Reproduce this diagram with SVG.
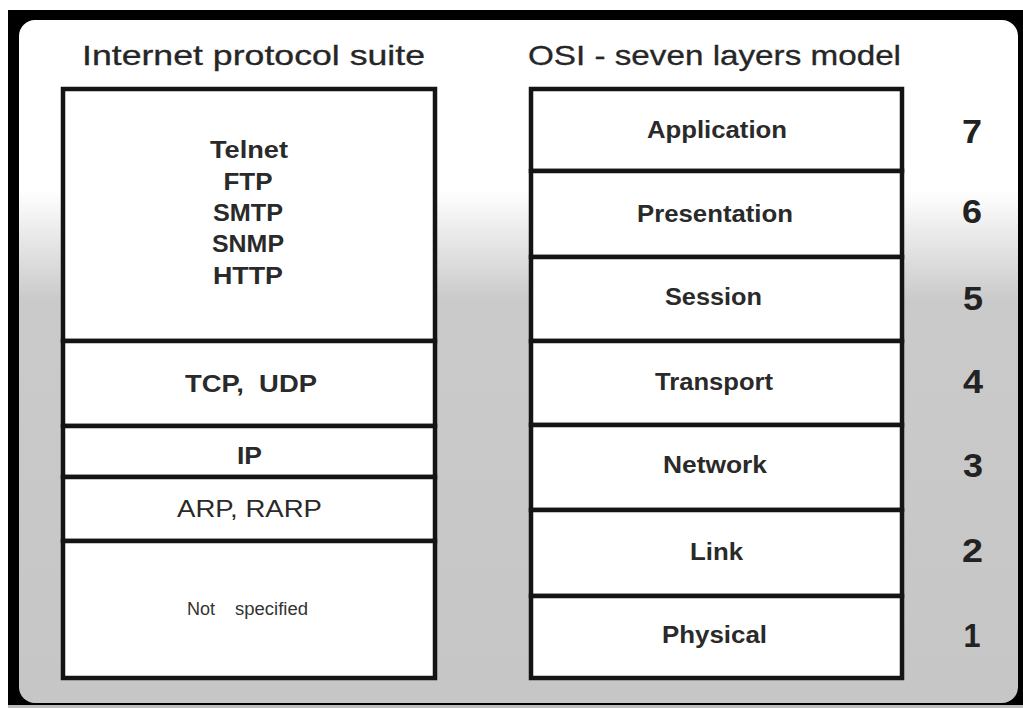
<svg xmlns="http://www.w3.org/2000/svg" width="1023" height="708" viewBox="0 0 1023 708">
  <defs>
    <linearGradient id="panelFill" x1="0" y1="0" x2="0" y2="1">
      <stop offset="0" stop-color="#ffffff"/>
      <stop offset="0.25" stop-color="#ffffff"/>
      <stop offset="0.41" stop-color="#cacaca"/>
      <stop offset="1" stop-color="#c6c6c6"/>
    </linearGradient>
  </defs>
  <style>
    .layer { fill: #ffffff; stroke: #141414; stroke-width: 4.5; }
    .title { font-family: "Liberation Sans", Arial, sans-serif; font-size: 28px; fill: #262626; stroke: #262626; stroke-width: 0.3; }
    .lbl { font-family: "Liberation Sans", Arial, sans-serif; font-size: 23px; font-weight: bold; fill: #2a2a2a; text-anchor: middle; }
    .small { font-family: "Liberation Sans", Arial, sans-serif; font-size: 18px; fill: #333333; }
    .num { font-family: "Liberation Sans", Arial, sans-serif; font-size: 33px; font-weight: bold; fill: #222222; text-anchor: middle; }
  </style>

  <!-- page frame -->
  <rect x="0" y="0" width="1023" height="708" fill="#ffffff"/>
  <rect x="8" y="10" width="1015" height="696" fill="#000000"/>
  <rect x="8" y="705" width="1015" height="3" fill="#bdbdbd"/>
  <rect x="19" y="20" width="999" height="683" rx="16" ry="16" fill="url(#panelFill)"/>

  <!-- column headings -->
  <text class="title" x="82" y="65" textLength="343" lengthAdjust="spacingAndGlyphs">Internet protocol suite</text>
  <text class="title" x="528" y="65" textLength="373" lengthAdjust="spacingAndGlyphs">OSI - seven layers model</text>

  <!-- Internet protocol suite stack -->
  <g id="ip-application">
    <rect class="layer" x="63" y="89" width="372" height="252"/>
    <text class="lbl" x="249" y="158" textLength="78" lengthAdjust="spacingAndGlyphs">Telnet</text>
    <text class="lbl" x="248" y="190" textLength="49" lengthAdjust="spacingAndGlyphs">FTP</text>
    <text class="lbl" x="248" y="221" textLength="70" lengthAdjust="spacingAndGlyphs">SMTP</text>
    <text class="lbl" x="248" y="252" textLength="72" lengthAdjust="spacingAndGlyphs">SNMP</text>
    <text class="lbl" x="248" y="284" textLength="70" lengthAdjust="spacingAndGlyphs">HTTP</text>
  </g>
  <g id="ip-transport">
    <rect class="layer" x="63" y="341" width="372" height="85"/>
    <text class="lbl" x="251" y="392" textLength="132" lengthAdjust="spacingAndGlyphs" xml:space="preserve">TCP,  UDP</text>
  </g>
  <g id="ip-internet">
    <rect class="layer" x="63" y="426" width="372" height="51"/>
    <text class="lbl" x="249.5" y="464" textLength="25" lengthAdjust="spacingAndGlyphs">IP</text>
  </g>
  <g id="ip-link">
    <rect class="layer" x="63" y="477" width="372" height="64"/>
    <text class="lbl" x="249.5" y="517" textLength="145" lengthAdjust="spacingAndGlyphs" style="font-weight:normal">ARP, RARP</text>
  </g>
  <g id="ip-physical">
    <rect class="layer" x="63" y="541" width="372" height="137"/>
    <text class="small" x="187" y="615">Not</text>
    <text class="small" x="235" y="615" textLength="73" lengthAdjust="spacingAndGlyphs">specified</text>
  </g>

  <!-- OSI reference model stack -->
  <g id="osi-7">
    <rect class="layer" x="531" y="89" width="371" height="82"/>
    <text class="lbl" x="717" y="138" textLength="140" lengthAdjust="spacingAndGlyphs">Application</text>
    <text class="num" x="972" y="143" textLength="20" lengthAdjust="spacingAndGlyphs">7</text>
  </g>
  <g id="osi-6">
    <rect class="layer" x="531" y="171" width="371" height="86"/>
    <text class="lbl" x="715" y="222" textLength="156" lengthAdjust="spacingAndGlyphs">Presentation</text>
    <text class="num" x="972" y="223" textLength="20" lengthAdjust="spacingAndGlyphs">6</text>
  </g>
  <g id="osi-5">
    <rect class="layer" x="531" y="257" width="371" height="84"/>
    <text class="lbl" x="713.5" y="305" textLength="97" lengthAdjust="spacingAndGlyphs">Session</text>
    <text class="num" x="973" y="310" textLength="20" lengthAdjust="spacingAndGlyphs">5</text>
  </g>
  <g id="osi-4">
    <rect class="layer" x="531" y="341" width="371" height="84"/>
    <text class="lbl" x="714" y="390" textLength="118" lengthAdjust="spacingAndGlyphs">Transport</text>
    <text class="num" x="973" y="393" textLength="20" lengthAdjust="spacingAndGlyphs">4</text>
  </g>
  <g id="osi-3">
    <rect class="layer" x="531" y="425" width="371" height="85"/>
    <text class="lbl" x="715" y="473" textLength="104" lengthAdjust="spacingAndGlyphs">Network</text>
    <text class="num" x="973" y="477" textLength="20" lengthAdjust="spacingAndGlyphs">3</text>
  </g>
  <g id="osi-2">
    <rect class="layer" x="531" y="510" width="371" height="86"/>
    <text class="lbl" x="716.5" y="560" textLength="53" lengthAdjust="spacingAndGlyphs">Link</text>
    <text class="num" x="972.5" y="562" textLength="21" lengthAdjust="spacingAndGlyphs">2</text>
  </g>
  <g id="osi-1">
    <rect class="layer" x="531" y="596" width="371" height="82"/>
    <text class="lbl" x="714.5" y="643" textLength="105" lengthAdjust="spacingAndGlyphs">Physical</text>
    <text class="num" x="972" y="647" textLength="17" lengthAdjust="spacingAndGlyphs">1</text>
  </g>
</svg>
